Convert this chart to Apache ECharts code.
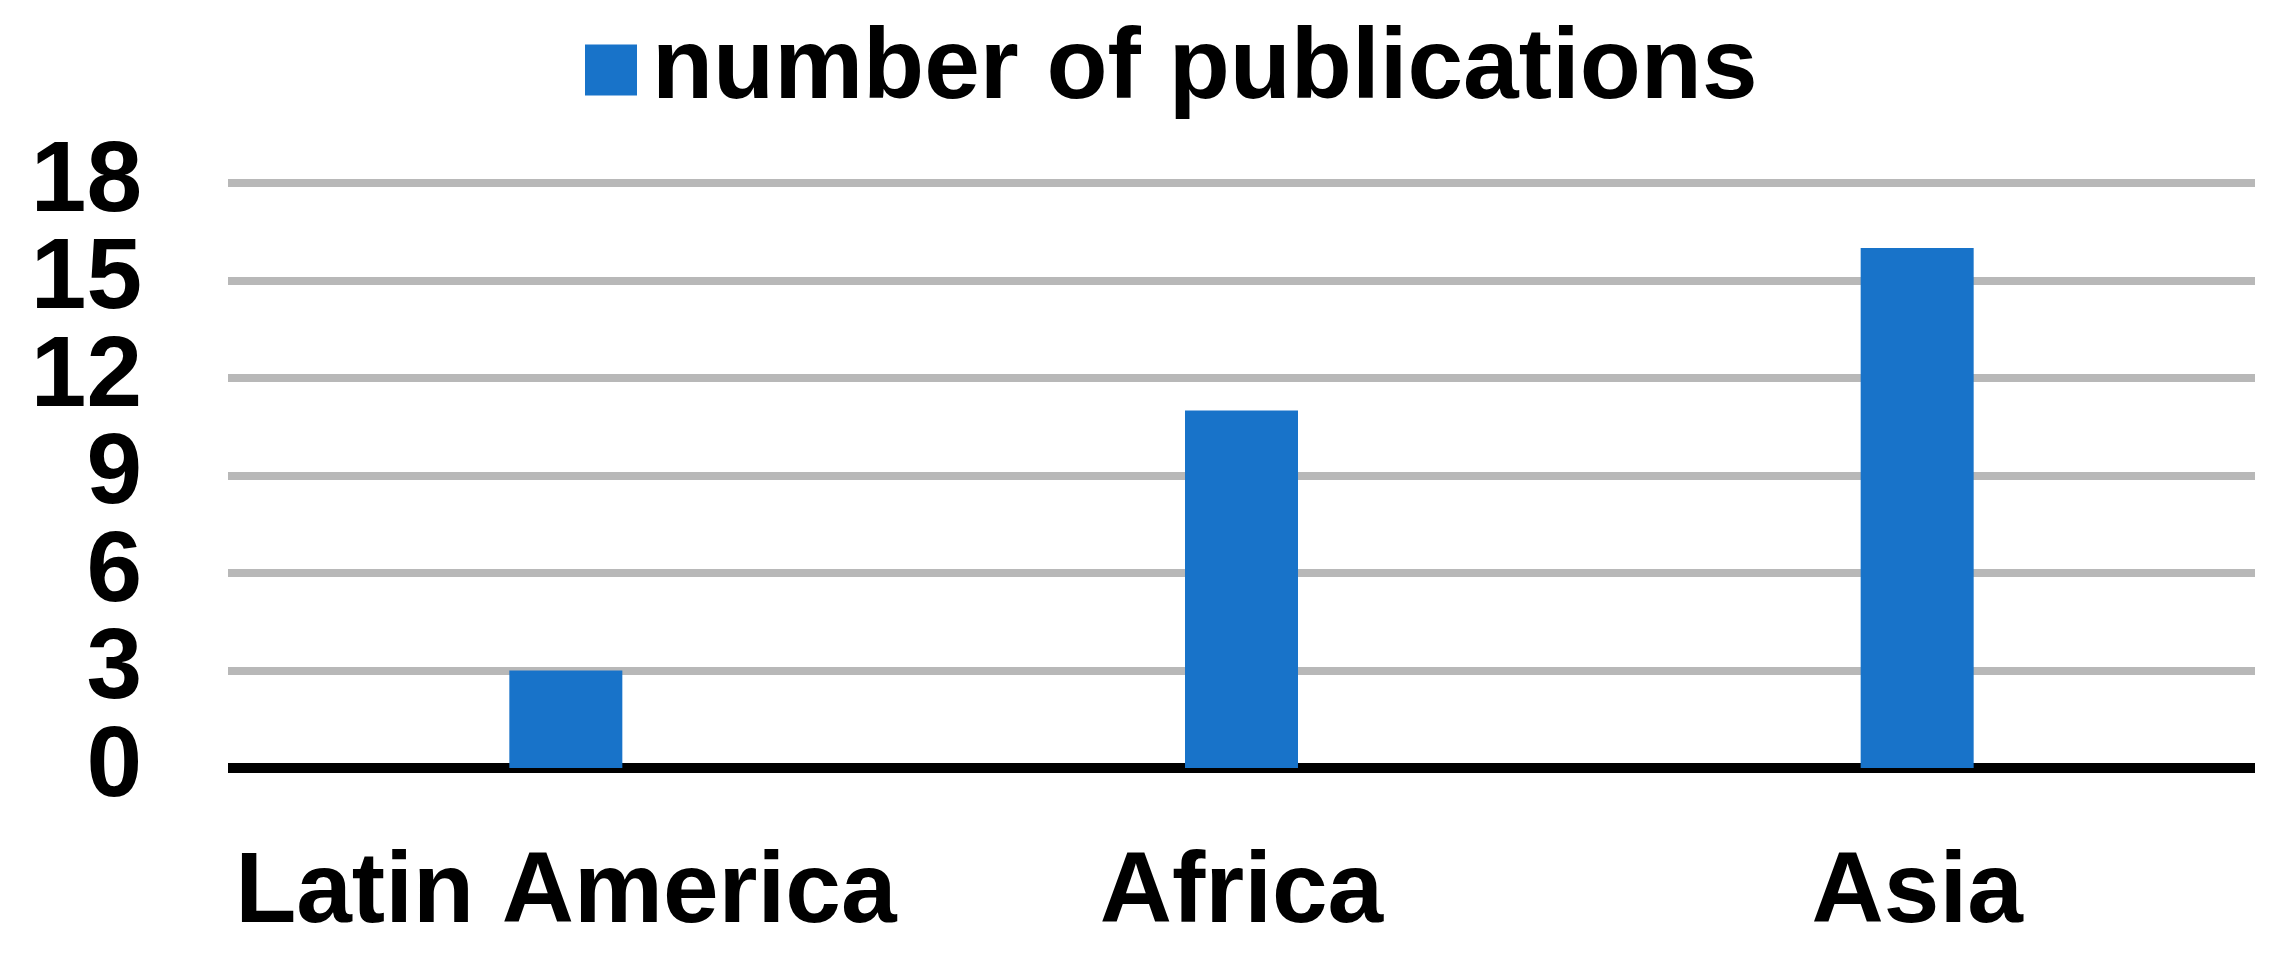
<!DOCTYPE html>
<html>
<head>
<meta charset="utf-8">
<script src="https://cdn.jsdelivr.net/npm/echarts@6/dist/echarts.min.js"></script>
<style>
html,body{margin:0;padding:0;background:#fff;}
#chart{width:2294px;height:953px;}
</style>
</head>
<body>
<div id="chart"></div>
<script>
const categories = ['Latin America', 'Africa', 'Asia'];
const publications = [3, 11, 16];
const seriesName = 'number of publications';
const yMin = 0, yMax = 18, yStep = 3;
const yTickLabelsEven = [0, 6, 12, 18];
const yTickLabelsOdd = [3, 9, 15];

const chart = echarts.init(document.getElementById('chart'), null, {renderer: 'canvas'});
const font = '"Liberation Sans", Arial, sans-serif';
const yLabelStyle = {margin: 86, fontFamily: font, fontWeight: 'bold', fontSize: 100, color: '#000'};
chart.setOption({
  animation: false,
  backgroundColor: '#ffffff',
  legend: {
    data: [seriesName],
    left: 580,
    top: 15,
    itemWidth: 52,
    itemHeight: 51,
    icon: 'rect',
    textStyle: {fontFamily: font, fontWeight: 'bold', fontSize: 100, color: '#000', padding: [0, 0, 0, 10]}
  },
  grid: {left: 228, right: 39, top: 183, bottom: 185, containLabel: false},
  xAxis: {
    type: 'category',
    data: categories,
    axisLine: {show: true, lineStyle: {color: '#000', width: 10, cap: 'butt'}},
    axisTick: {show: false},
    axisLabel: {interval: 0, margin: 76, fontFamily: font, fontWeight: 'bold', fontSize: 100, color: '#000'}
  },
  yAxis: [{
    type: 'value',
    position: 'left',
    min: yMin, max: yMax, interval: yStep,
    axisLine: {show: false},
    axisTick: {show: false},
    splitLine: {show: true, lineStyle: {color: '#b8b8b8', width: 8}},
    axisLabel: Object.assign({customValues: yTickLabelsEven, showMinLabel: true, showMaxLabel: true}, yLabelStyle)
  }, {
    type: 'value',
    position: 'left',
    offset: 0,
    min: yMin, max: yMax, interval: yStep,
    axisLine: {show: false},
    axisTick: {show: false},
    splitLine: {show: false},
    axisLabel: Object.assign({customValues: yTickLabelsOdd, showMinLabel: true, showMaxLabel: true}, yLabelStyle)
  }],
  series: [{
    name: seriesName,
    type: 'bar',
    yAxisIndex: 0,
    data: publications,
    barWidth: 113,
    itemStyle: {color: '#1873c9'}
  }]
});
</script>
</body>
</html>
